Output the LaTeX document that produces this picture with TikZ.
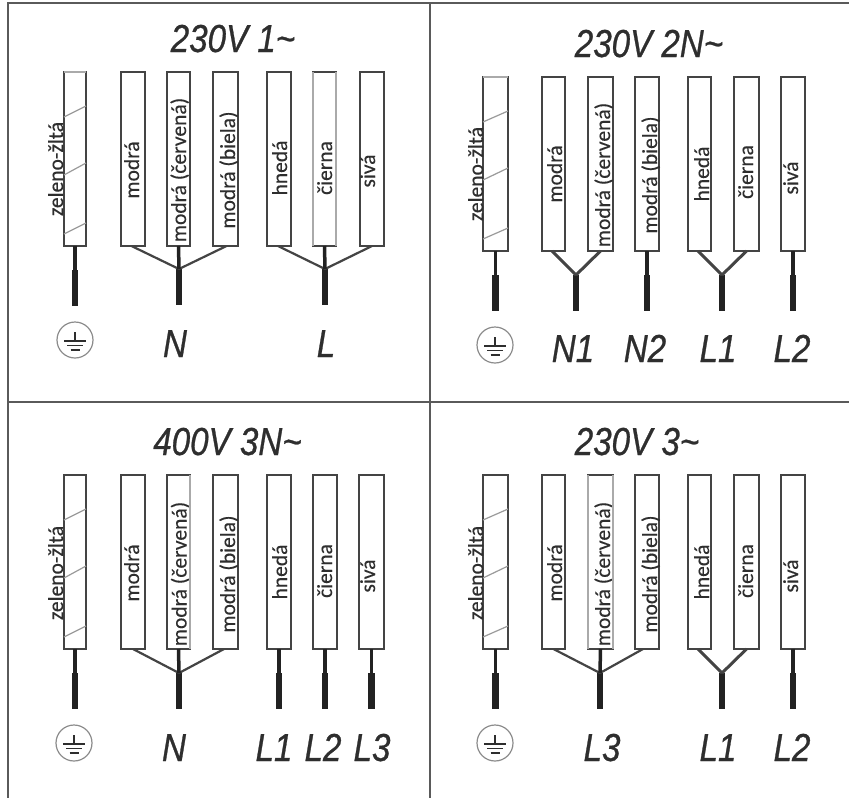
\documentclass[tikz,border=0pt]{standalone}
\usepackage{fontspec}
\setmainfont[FakeBold=0.25]{Carlito}
\newfontfamily\capfont[FakeStretch=0.85,FakeBold=0.7]{Liberation Sans}
\definecolor{ink}{HTML}{2E2E2E}
\definecolor{frameink}{HTML}{5A5A5A}
\definecolor{boxink}{HTML}{444444}
\definecolor{stripeink}{HTML}{9A9A9A}
\definecolor{softink}{HTML}{AAAAAA}
\definecolor{leadink}{HTML}{222222}
\tikzset{
  wirebox/.style={draw=boxink,line width=1.5pt,fill=white,rectangle,inner sep=0pt,outer sep=0pt},
  wiretext/.style={font=\bfseries\fontsize{21.5}{21.5}\selectfont,text=ink,rotate=90,anchor=base,inner sep=0pt,outer sep=0pt},
  captext/.style={font=\capfont\itshape\fontsize{39}{39}\selectfont,text=ink,anchor=base,inner sep=0pt,outer sep=0pt},
  frameline/.style={draw=frameink,line width=1.8pt},
  stripe/.style={draw=stripeink,line width=1.2pt},
  softedge/.style={draw=softink,line width=1.5pt},
  thinlead/.style={draw=leadink,line width=3.5pt},
  thicklead/.style={draw=leadink,line width=6.5pt},
  sidelead/.style={draw=boxink,line width=2.2pt},
  forklead/.style={draw=boxink,line width=3pt},
  earthring/.style={draw=gray!90,line width=1.2pt,circle,minimum size=36pt,inner sep=0pt,outer sep=0pt},
  earthline/.style={draw=ink,line width=1.1pt}
}
% name, x left, x right, y top, text, text baseline x, text centre y
\newcommand{\wirerect}[7]{%
  \pgfmathsetmacro{\wrw}{#3-#2}\pgfmathsetmacro{\wrx}{(#2+#3)/2}\pgfmathsetmacro{\wry}{#4+87}%
  \node[wirebox,minimum width=\wrw pt,minimum height=174pt] (#1) at (\wrx,\wry) {};
  \node[wiretext] (#1t) at (#6,#7) {\normalfont\fontsize{21.5}{21.5}\selectfont #5};
}
% box name: thin lead then thick lead
\newcommand{\straightlead}[1]{%
  \draw[thinlead] (#1.south) -- ++(0,24) coordinate (#1j);
  \draw[thicklead] (#1j) -- ++(0,36) coordinate (#1e);
}
% name, x, y
\newcommand{\joinlead}[3]{%
  \coordinate (#1) at (#2,#3);
  \draw[thicklead] (#1) -- ++(0,36) coordinate (#1e);
}
% name, x, y
\newcommand{\earthmark}[3]{%
  \node[earthring] (#1) at (#2,#3) {};
  \draw[earthline] ([yshift=8pt]#1.center) -- ([yshift=-1pt]#1.center);
  \draw[earthline] ([shift={(-11pt,-1pt)}]#1.center) -- ([shift={(11pt,-1pt)}]#1.center);
  \draw[earthline] ([shift={(-8pt,-5.5pt)}]#1.center) -- ([shift={(8pt,-5.5pt)}]#1.center);
  \draw[earthline] ([shift={(-4.5pt,-10pt)}]#1.center) -- ([shift={(4.5pt,-10pt)}]#1.center);
}
% x left, x right, y top
\newcommand{\stripes}[3]{%
  \draw[stripe] (#1,#3+45) -- (#2,#3+34);
  \draw[stripe] (#1,#3+103) -- (#2,#3+91);
  \draw[stripe] (#1,#3+162) -- (#2,#3+151);
}
\begin{document}
\begin{tikzpicture}[x=1pt,y=-1pt]
\useasboundingbox (0,0) rectangle (849,798);
\fill[white] (0,0) rectangle (849,798);
% frame
\coordinate (ftl) at (8,3); \coordinate (ftr) at (849,3);
\coordinate (fbl) at (8,798); \coordinate (fml) at (8,402); \coordinate (fmr) at (849,402);
\coordinate (fmt) at (430,3); \coordinate (fmb) at (430,798);
\draw[frameline] (ftr) -- (ftl) -- (fbl);
\draw[frameline] (fml) -- (fmr);
\draw[frameline] (fmt) -- (fmb);

% ---------- top left: 230V 1~
\node[captext] (atitle) at (233,52) {230V 1\textasciitilde};
\wirerect{ape}{64}{86}{72}{zeleno-žltá}{63}{169}
\stripes{64}{86}{72}
\wirerect{am}{121}{145}{72}{modrá}{139}{170}
\wirerect{ac}{167}{190}{72}{modrá (červená)}{186}{170}
\wirerect{ab}{213}{238}{72}{modrá (biela)}{235}{170}
\wirerect{ah}{267}{291}{72}{hnedá}{287}{168}
\wirerect{ad}{313}{336}{72}{čierna}{332}{168}
\wirerect{as}{360}{384}{72}{sivá}{375}{171}
\draw[softedge] (ape.north west) -- (ape.north east);
\draw[softedge] (ad.north west) -- (ad.south west);
\draw[softedge] (ad.north east) -- (ad.south east);
\straightlead{ape}
\joinlead{aN}{179}{269}
\joinlead{aL}{325}{269}
\draw[sidelead] ([xshift=-1.5pt]am.south) -- (aN);
\draw[sidelead] ([xshift=1pt]ab.south) -- (aN);
\draw[thinlead] (ac.south) -- (aN);
\draw[sidelead] ([xshift=-1pt]ah.south) -- (aL);
\draw[sidelead] (as.south) -- (aL);
\draw[thinlead] (ad.south) -- (aL);
\earthmark{ag}{75}{340}
\node[captext] (aNt) at (175,357) {N};
\node[captext] (aLt) at (326,357) {L};

% ---------- top right: 230V 2N~
\node[captext] (btitle) at (649,57) {230V 2N\textasciitilde};
\wirerect{bpe}{483}{508}{77}{zeleno-žltá}{483}{174}
\stripes{483}{508}{77}
\wirerect{bm}{542}{565}{77}{modrá}{562}{174}
\wirerect{bc}{588}{613}{77}{modrá (červená)}{610}{175}
\wirerect{bb}{635}{659}{77}{modrá (biela)}{657}{175}
\wirerect{bh}{688}{711}{77}{hnedá}{709}{174}
\wirerect{bd}{734}{759}{77}{čierna}{753}{172}
\wirerect{bs}{781}{805}{77}{sivá}{798}{178}
\draw[softedge] (bpe.north west) -- (bpe.north east);
\straightlead{bpe}
\straightlead{bb}
\straightlead{bs}
\joinlead{bN}{576}{275}
\joinlead{bL}{722}{275}
\draw[forklead] ([xshift=-1.5pt]bm.south) -- (bN);
\draw[forklead] (bc.south) -- (bN);
\draw[forklead] ([xshift=-1.5pt]bh.south) -- (bL);
\draw[forklead] (bd.south) -- (bL);
\earthmark{bg}{495}{345}
\node[captext] (bN1) at (573,362) {N1};
\node[captext] (bN2) at (645,362) {N2};
\node[captext] (bL1) at (718,362) {L1};
\node[captext] (bL2) at (792,362) {L2};

% ---------- bottom left: 400V 3N~
\node[captext] (ctitle) at (227.5,455) {400V 3N\textasciitilde};
\wirerect{cpe}{64}{86}{475}{zeleno-žltá}{63}{573}
\stripes{64}{86}{475}
\wirerect{cm}{121}{145}{475}{modrá}{139}{573}
\wirerect{cc}{167}{190}{475}{modrá (červená)}{186.5}{574}
\wirerect{cb}{213}{238}{475}{modrá (biela)}{235}{574}
\wirerect{ch}{267}{291}{475}{hnedá}{287}{572}
\wirerect{cd}{313}{337}{475}{čierna}{332}{571}
\wirerect{cs}{359}{384}{475}{sivá}{375}{576}
\draw[softedge] (cc.north east) -- (cc.south east);
\straightlead{cpe}
\straightlead{ch}
\straightlead{cd}
\straightlead{cs}
\joinlead{cN}{179}{673}
\draw[sidelead] (cm.south) -- (cN);
\draw[sidelead] ([xshift=-1.5pt]cb.south) -- (cN);
\draw[thinlead] (cc.south) -- (cN);
\earthmark{cg}{74}{743}
\node[captext] (cNt) at (174,761) {N};
\node[captext] (cL1) at (274,761) {L1};
\node[captext] (cL2) at (323,761) {L2};
\node[captext] (cL3) at (372,761) {L3};

% ---------- bottom right: 230V 3~
\node[captext] (dtitle) at (637,455) {230V 3\textasciitilde};
\wirerect{dpe}{483}{508}{475}{zeleno-žltá}{483}{573}
\stripes{483}{508}{475}
\wirerect{dm}{542}{565}{475}{modrá}{562}{573}
\wirerect{dc}{588}{613}{475}{modrá (červená)}{610}{574}
\wirerect{db}{635}{659}{475}{modrá (biela)}{657}{574}
\wirerect{dh}{688}{711}{475}{hnedá}{709}{572}
\wirerect{dd}{734}{759}{475}{čierna}{753}{571}
\wirerect{ds}{781}{805}{475}{sivá}{798}{576}
\draw[softedge] (dc.north west) -- (dc.south west);
\draw[softedge] (dc.north east) -- (dc.south east);
\straightlead{dpe}
\straightlead{ds}
\joinlead{dT}{600}{673}
\joinlead{dL}{722}{673}
\draw[sidelead] (dm.south) -- (dT);
\draw[sidelead] ([xshift=-4pt]db.south) -- (dT);
\draw[thinlead] (dc.south) -- (dT);
\draw[forklead] ([xshift=-1.5pt]dh.south) -- (dL);
\draw[forklead] (dd.south) -- (dL);
\earthmark{dg}{495}{743}
\node[captext] (dL3) at (602,761) {L3};
\node[captext] (dL1) at (718,761) {L1};
\node[captext] (dL2) at (792,761) {L2};
\end{tikzpicture}
\end{document}
